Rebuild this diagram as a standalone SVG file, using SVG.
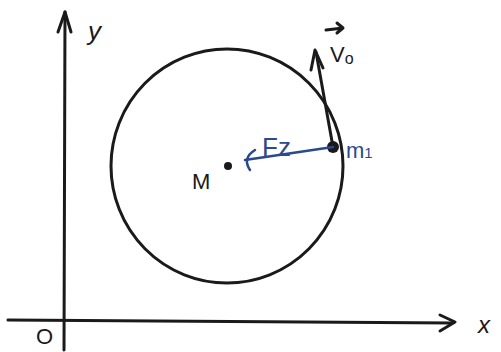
<svg xmlns="http://www.w3.org/2000/svg" width="501" height="352" viewBox="0 0 501 352">
<style>
.ln{stroke:#1a1a1a;stroke-width:3;fill:none;stroke-linecap:round;stroke-linejoin:round}
.bl{stroke:#2b4a8c;stroke-width:2.5;fill:none;stroke-linecap:round;stroke-linejoin:round}
.t{font-family:"Liberation Sans",sans-serif;fill:#1a1a1a}
.tb{font-family:"Liberation Sans",sans-serif;fill:#2b4a8c}
</style>
<rect width="501" height="352" fill="#ffffff"/>
<g id="axes">
<path class="ln" d="M64 350 L65 12"/>
<path class="ln" d="M58 32 L65 12 L71 32"/>
<path class="ln" d="M8 320 L452 323"/>
<path class="ln" d="M440 315 L455 322 L440 331"/>
<text class="t" x="88" y="40" font-size="26" font-style="italic">y</text>
<text class="t" x="478" y="333" font-size="24" font-style="italic">x</text>
<text class="t" x="36" y="344" font-size="22">O</text>
</g>
<g id="circle">
<ellipse class="ln" cx="227" cy="166" rx="116" ry="117"/>
</g>
<g id="M">
<circle cx="228" cy="166" r="4" fill="#1a1a1a"/>
<text class="t" x="192" y="189" font-size="22">M</text>
</g>
<g id="m1">
<circle cx="333" cy="147" r="6" fill="#1a1a1a"/>
<text class="tb" x="346" y="158" font-size="22">m<tspan font-size="15">1</tspan></text>
</g>
<g id="connectors">
<g id="v0">
<path class="ln" d="M333 147 L316 52"/>
<path class="ln" d="M311 70 L315 50 L323 68"/>
<text class="t" x="330" y="62" font-size="22">V<tspan font-size="16" dy="2">o</tspan></text>
<path class="ln" d="M326 30 L343 28 M337 23 L343 28 L337 33" stroke-width="2.5"/>
</g>
<g id="F2">
<path class="bl" d="M333 147 L245 160"/>
<path class="bl" d="M255 150 Q242 158 250 170"/>
<text class="tb" x="262" y="156" font-size="26">Fz</text>
</g>
</g>
</svg>
